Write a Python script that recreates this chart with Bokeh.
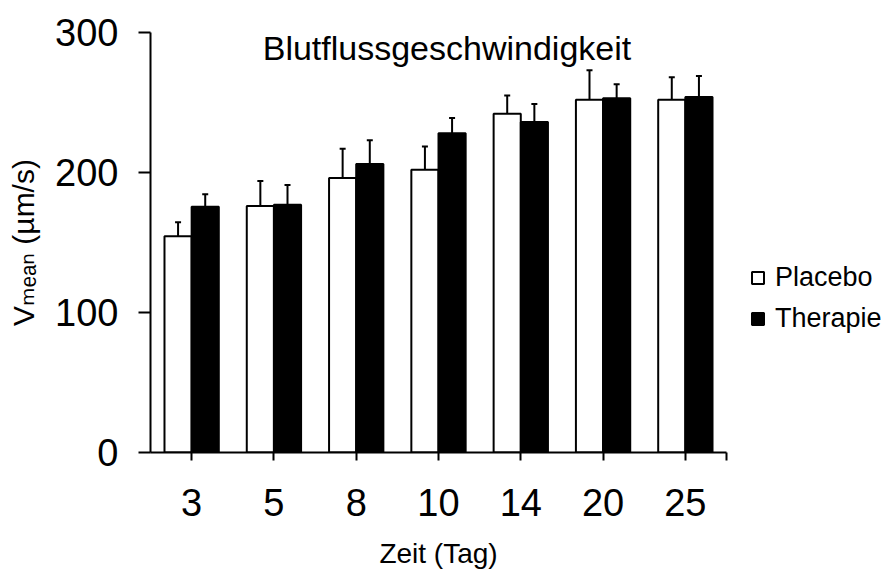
import numpy as np
from bokeh.plotting import figure
from bokeh.models import (Range1d, FixedTicker, Whisker, TeeHead, Label, Legend,
                          LegendItem, ColumnDataSource, LinearAxis)
from bokeh.embed import file_html
from bokeh.resources import INLINE

# ---- data ----
categories = ["3", "5", "8", "10", "14", "20", "25"]
placebo = [154.5, 176, 196, 202, 242, 252, 252]
placebo_err = [10, 18, 21, 16.5, 13, 21, 16]
therapie = [175.5, 177, 206, 228, 236, 253, 254]
therapie_err = [9, 14, 17, 11, 13, 10, 15]
title_text = "Blutflussgeschwindigkeit"
x_label = "Zeit (Tag)"
y_label = "V\u2098\u2091\u2090\u2099 (µm/s)"
y_ticks = [0, 100, 200, 300]

FONT = "Liberation Sans"
n = len(categories)
centers = np.arange(n) + 0.5
off = 0.165
bw = 0.33

# frame spans to the right edge so the legend can live inside it;
# the visible x axis is bounded to the category span
W, H = 893, 573
left_b, axis_px = 150, 576
x_end = n * (W - left_b) / axis_px

p = figure(width=W, height=H, output_backend="svg", toolbar_location=None,
           x_range=Range1d(0, x_end), y_range=Range1d(0, 300),
           min_border_left=left_b, min_border_right=0, min_border_top=32,
           min_border_bottom=121)
p.outline_line_color = None
p.xgrid.visible = False
p.ygrid.visible = False
p.background_fill_color = "white"
p.border_fill_color = "white"

src = ColumnDataSource(dict(
    xp=centers - off, xt=centers + off,
    p=placebo, t=therapie,
    pu=np.array(placebo) + np.array(placebo_err),
    tu=np.array(therapie) + np.array(therapie_err),
))

rp = p.vbar(x="xp", top="p", width=bw, bottom=0, source=src,
            fill_color="white", line_color="black", line_width=2)
rt = p.vbar(x="xt", top="t", width=bw, bottom=0, source=src,
            fill_color="black", line_color="black", line_width=2)

for xcol, lo, hi in (("xp", "p", "pu"), ("xt", "t", "tu")):
    w = Whisker(base=xcol, lower=lo, upper=hi, source=src, dimension="height",
                line_color="black", line_width=2, lower_head=None,
                upper_head=TeeHead(size=6, line_width=2, line_color="black"))
    p.add_layout(w)

# axes
for ax in (p.xaxis[0], p.yaxis[0]):
    ax.axis_line_width = 2
    ax.axis_line_color = "black"
    ax.major_tick_line_width = 2
    ax.major_tick_line_color = "black"
    ax.major_tick_in = 0
    ax.minor_tick_line_color = None
    ax.major_label_text_font = FONT
    ax.major_label_text_font_size = "38px"
    ax.major_label_text_color = "black"

p.yaxis.ticker = FixedTicker(ticks=y_ticks)
p.yaxis.major_tick_out = 12
p.yaxis.major_label_standoff = 20
p.yaxis.axis_label = y_label
p.yaxis.axis_label_text_font = "Liberation Sans, DejaVu Sans"
p.yaxis.axis_label_text_font_style = "normal"
p.yaxis.axis_label_text_color = "black"
p.yaxis.axis_label_text_font_size = "30px"
p.yaxis.axis_label_standoff = 12

xt = list(centers) + [float(n)]
p.xaxis.ticker = FixedTicker(ticks=xt)
p.xaxis.bounds = (0, n)
overrides = {float(c): lab for c, lab in zip(centers, categories)}
overrides[float(n)] = ""
p.xaxis.major_label_overrides = overrides
p.xaxis.major_tick_out = 8
p.xaxis.major_label_standoff = 28

# x axis title, centred under the category span via a label-only axis
mid = n / 2
xlab_axis = LinearAxis(ticker=FixedTicker(ticks=[mid]),
                       major_label_overrides={mid: x_label},
                       axis_line_color=None, major_tick_line_color=None,
                       minor_tick_line_color=None, major_tick_in=0,
                       major_tick_out=0, major_label_standoff=19,
                       major_label_text_font=FONT,
                       major_label_text_font_size="28px",
                       major_label_text_color="black")
p.add_layout(xlab_axis, "below")

# title
p.add_layout(Label(x=3.603, y=288.6, text=title_text, text_font=FONT,
                   text_font_size="34px", text_align="center",
                   text_baseline="alphabetic", text_color="black"))

legend = Legend(items=[LegendItem(label="Placebo", renderers=[rp]),
                       LegendItem(label="Therapie", renderers=[rt])],
                location=(600, 118), glyph_width=15, glyph_height=15,
                label_standoff=10, spacing=10, padding=0, margin=0,
                border_line_color=None, background_fill_alpha=0,
                label_text_font=FONT, label_text_font_size="27px",
                label_text_color="black")
p.add_layout(legend, "center")

open("out.html", "w").write(file_html(p, INLINE))
